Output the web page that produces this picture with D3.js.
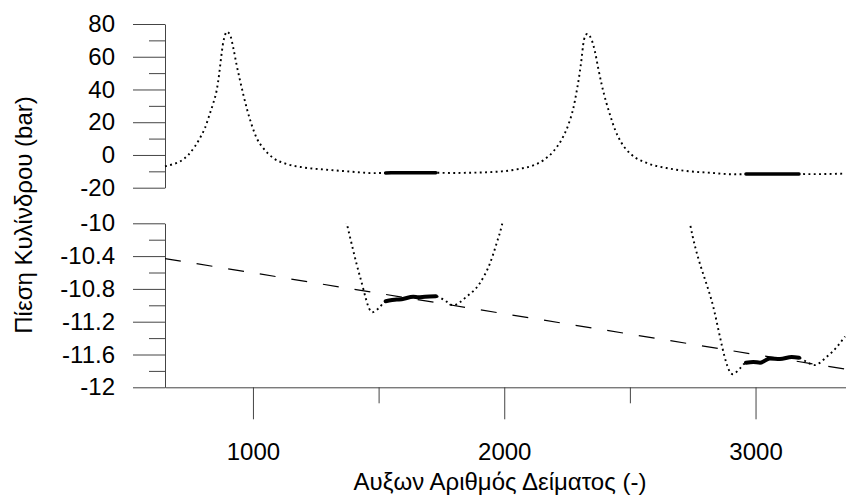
<!DOCTYPE html>
<html lang="el">
<head>
    <meta charset="UTF-8">
    <title>Πίεση Κυλίνδρου</title>
    <script src="https://cdnjs.cloudflare.com/ajax/libs/d3/7.8.5/d3.min.js"></script>
    <style>
        body { margin: 0; background: #fff; }
        text { font-family: "Liberation Sans", Arial, sans-serif; }
    </style>
</head>
<body>
<svg width="846" height="497"></svg>
<script>
    // sample number and cylinder pressure (bar)
    const steps = [650, 680, 710, 743, 769, 789, 809, 829, 842, 856, 866, 873, 880, 889, 896,
        909, 922, 935, 948, 962, 977, 995, 1015, 1041, 1081, 1134, 1200, 1293, 1373, 1426,
        1475, 1499, 1528, 1572, 1592, 1638, 1658, 1685, 1728, 1771, 1796, 1850, 1903, 1943,
        1970, 1990, 2063, 2115, 2155, 2195, 2228, 2255, 2275, 2288, 2299, 2308, 2314, 2321,
        2330, 2348, 2361, 2374, 2388, 2405, 2421, 2441, 2467, 2507, 2567, 2646, 2739, 2825,
        2909, 2938, 2962, 2991, 3018, 3057, 3097, 3144, 3173, 3203, 3233, 3283, 3323, 3356];
    const pressure = [-7.0, -5.7, -4.0, 0.1, 5.2, 10.3, 16.4, 25.5, 31.6, 39.8, 49.9, 59.1, 67.2, 73.3, 75.3,
        73.3, 65.2, 55.0, 45.9, 36.7, 27.6, 18.4, 10.3, 4.2, -1.9, -5.5, -7.6, -9.0, -10.0, -10.65,
        -11.085, -11.04, -10.95, -10.93, -10.925, -10.895, -10.902, -10.895, -10.89, -10.956, -11.0, -10.895, -10.73, -10.49,
        -10.24, -10.03, -8.4, -6.4, -3.3, 2.1, 9.3, 18.4, 28.6, 38.7, 48.9, 59.1, 67.2, 72.3,
        73.9, 70.2, 63.1, 53.0, 42.8, 32.6, 24.5, 15.4, 7.3, 0.1, -4.9, -8.0, -10.0, -10.94,
        -11.84, -11.77, -11.70, -11.69, -11.70, -11.65, -11.655, -11.632, -11.64, -11.69, -11.73, -11.63, -11.51, -11.38];

    // windows drawn as a thick line
    const windowStart = [1528, 2962];
    const windowEnd = [1728, 3173];

    // dashed trend line (two end points)
    const trendSteps = [650, 3360];
    const trendValues = [-10.43, -11.78];

    const xTicks = [1000, 2000, 3000];
    const xMinor = [1500, 2500];
    const topTicks = [-20, 0, 20, 40, 60, 80];
    const topMinor = [-10, 10, 30, 50, 70];
    const botTicks = [-12, -11.6, -11.2, -10.8, -10.4, -10];
    const botMinor = [-11.8, -11.4, -11.0, -10.6, -10.2];

    const data = steps.map((s, i) => ({s: s, p: pressure[i]}));
    const trend = trendSteps.map((s, i) => ({s: s, p: trendValues[i]}));

    const svg = d3.select('svg');
    const x = d3.scaleLinear().domain([650, 3360]).range([165, 846]);
    const yTop = d3.scaleLinear().domain([-20, 80]).range([187.7, 24]);
    const yBot = d3.scaleLinear().domain([-12, -10]).range([387.3, 223.3]);

    const axisColor = '#444';
    // plain hyphen for negatives, like the original
    const fmt = d => String(+d.toFixed(1));

    const styleAxis = g => {
        g.selectAll('path, line').attr('stroke', axisColor);
        g.selectAll('text').attr('font-size', '24px').attr('fill', 'black')
            .attr('font-family', '"Liberation Sans", Arial, sans-serif');
    };

    const yAxis = (scale, ticks, minor) => {
        svg.append('g')
            .attr('transform', 'translate(165,0)')
            .call(d3.axisLeft(scale).tickValues(ticks).tickSize(32).tickSizeOuter(0)
                .tickPadding(18).tickFormat(fmt))
            .call(styleAxis);
        svg.append('g')
            .attr('transform', 'translate(165,0)')
            .call(d3.axisLeft(scale).tickValues(minor).tickSize(16).tickFormat(''))
            .call(g => g.select('.domain').remove())
            .call(styleAxis);
    };

    yAxis(yTop, topTicks, topMinor);
    yAxis(yBot, botTicks, botMinor);

    // x axis under the lower panel
    svg.append('g')
        .attr('transform', 'translate(0,387.3)')
        .call(d3.axisBottom(x).tickValues(xTicks).tickSize(32).tickSizeOuter(0)
            .tickPadding(24).tickFormat(fmt))
        .call(styleAxis);
    svg.append('g')
        .attr('transform', 'translate(0,387.3)')
        .call(d3.axisBottom(x).tickValues(xMinor).tickSize(16).tickFormat(''))
        .call(g => g.select('.domain').remove())
        .call(styleAxis);

    // clip for the lower panel
    svg.append('clipPath').attr('id', 'clipBot')
        .append('rect')
        .attr('x', 165).attr('y', yBot(-10))
        .attr('width', 846 - 165).attr('height', yBot(-12) - yBot(-10));

    const drawPanel = (y, clip) => {
        const g = svg.append('g');
        if (clip) g.attr('clip-path', 'url(#clipBot)');
        const line = d3.line().x(d => x(d.s)).y(d => y(d.p)).curve(d3.curveMonotoneX);

        g.append('path')
            .datum(data)
            .attr('d', line)
            .attr('fill', 'none')
            .attr('stroke', 'black')
            .attr('stroke-width', 1.9)
            .attr('stroke-dasharray', '1.9,3.4');

        windowStart.forEach((a, i) => {
            g.append('path')
                .datum(data.filter(d => d.s >= a && d.s <= windowEnd[i]))
                .attr('d', line)
                .attr('fill', 'none')
                .attr('stroke', 'black')
                .attr('stroke-width', clip ? 4 : 3.5)
                .attr('stroke-linecap', 'round');
        });
        return g;
    };

    drawPanel(yTop, false);
    const bot = drawPanel(yBot, true);

    bot.append('path')
        .datum(trend)
        .attr('d', d3.line().x(d => x(d.s)).y(d => yBot(d.p)))
        .attr('fill', 'none')
        .attr('stroke', 'black')
        .attr('stroke-width', 1.2)
        .attr('stroke-dasharray', '16,16');

    // axis titles
    svg.append('text')
        .attr('transform', 'translate(32,215) rotate(-90)')
        .attr('text-anchor', 'middle')
        .attr('font-size', '24px')
        .attr('fill', 'black')
        .text('Πίεση Κυλίνδρου (bar)');

    svg.append('text')
        .attr('x', 500)
        .attr('y', 490)
        .attr('text-anchor', 'middle')
        .attr('font-size', '24px')
        .attr('fill', 'black')
        .text('Αυξων Αριθμός Δείματος (-)');
</script>
</body>
</html>
